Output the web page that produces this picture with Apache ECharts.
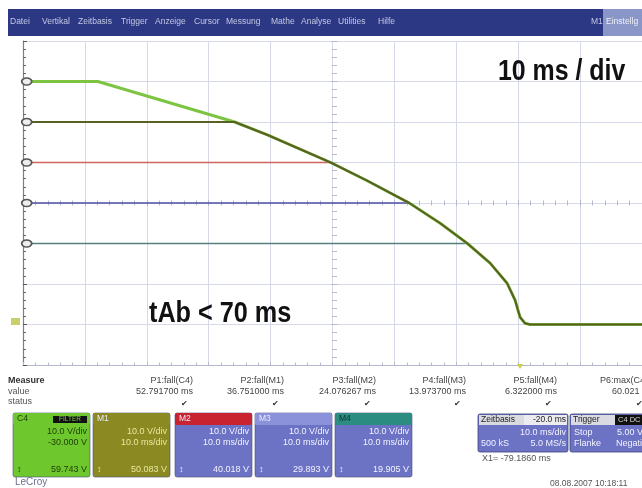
<!DOCTYPE html>
<html><head><meta charset="utf-8">
<script src="https://cdn.jsdelivr.net/npm/echarts@6/dist/echarts.min.js"></script>
<style>html,body{margin:0;padding:0;background:#fff}#c{width:642px;height:488px}</style>
</head><body><div id="c"></div>
<script>
// ---- data (time in ms, level in V) ----
const xMin = -80, xMax = 20, xStep = 10;
const yMin = -10, yMax = 70, yStep = 10;
const fallTime = [-45.8, -40.5, -30.3, -24.4, -17.6, -12.6, -8.2, -4.5, -1.8, -0.5, 0.3, 1.1, 1.9, 20];
const fallVolt = [50, 46.8, 40, 35.5, 30, 25, 20, 15.1, 10.2, 6, 1.8, 0.3, 0, 0];
const c4Time = [-80, -67.9];
const c4Volt = [60, 60];
const m1Time = [-80];
const m1Volt = [50];
const m2Time = [-80, -30.3];
const m2Volt = [40, 40];
const m3Time = [-80, -17.6];
const m3Volt = [30, 30];
const m4Time = [-80, -8.2];
const m4Volt = [20, 20];
const menuItems = ['Datei','Vertikal','Zeitbasis','Trigger','Anzeige','Cursor','Messung','Mathe','Analyse','Utilities','Hilfe'];
const measureNames = ['P1:fall(C4)','P2:fall(M1)','P3:fall(M2)','P4:fall(M3)','P5:fall(M4)','P6:max(C4)'];
const measureValues = ['52.791700 ms','36.751000 ms','24.076267 ms','13.973700 ms','6.322000 ms','60.021 V'];
const chanNames = ['C4','M1','M2','M3','M4'];
const chanLine1 = ['10.0 V/div','10.0 V/div','10.0 V/div','10.0 V/div','10.0 V/div'];
const chanLine2 = ['-30.000 V','10.0 ms/div','10.0 ms/div','10.0 ms/div','10.0 ms/div'];
const chanBottom = ['59.743 V','50.083 V','40.018 V','29.893 V','19.905 V'];

const zip = (a, b) => a.map((v, i) => [v, b[i]]);
const fall = zip(fallTime, fallVolt);

const chart = echarts.init(document.getElementById('c'), null, {renderer: 'canvas'});
const gridColor = '#d6d9e9';
const tickCol = '#b4b8cc';
const FF = '"Liberation Sans", Arial, sans-serif';

function T(x, y, text, o) {
  o = o || {};
  return {type: 'text', x: x, y: y, z: o.z || 20, scaleX: o.sx || 1,
    style: {text: text, fill: o.fill || '#444', fontSize: o.fs || 9, fontFamily: FF,
      fontWeight: o.fw || 'normal', textAlign: o.align || 'left', textVerticalAlign: 'middle'}};
}
function R(x, y, w, h, fill, o) {
  o = o || {};
  return {type: 'rect', z: o.z || 10, shape: {x: x, y: y, width: w, height: h, r: o.r || 0},
    style: {fill: fill, stroke: o.stroke || null, lineWidth: o.lw || 0}};
}

const g = [];
// menu bar
g.push(R(8, 9, 634, 27, '#2c3884'));
const menuX = [10, 42, 78, 121, 155, 194, 226, 271, 301, 338, 378];
menuItems.forEach((m, i) => g.push(T(menuX[i], 22, m, {fill: '#c3c8e4', fs: 8.5})));
g.push(T(591, 22, 'M1', {fill: '#c3c8e4', fs: 8.5}));
g.push(R(603, 9, 39, 27, '#8a96c8', {z: 11}));
g.push(T(606, 22, 'Einstellg', {fill: '#eef0fa', fs: 8.5}));

// annotations
g.push(T(498, 72, '10 ms / div', {fs: 30, fw: 'bold', fill: '#111', sx: 0.83, z: 30}));
g.push(T(149, 314, 'tAb < 70 ms', {fs: 29, fw: 'bold', fill: '#111', sx: 0.87, z: 30}));

// markers
g.push(R(11, 318, 9, 7, '#c9cf6a', {z: 12}));
g.push({type: 'polygon', z: 12, shape: {points: [[517, 364], [523, 364], [520, 369]]}, style: {fill: '#c8d040'}});

// measure table
g.push(T(8, 381, 'Measure', {fw: 'bold', fill: '#333'}));
g.push(T(8, 392, 'value', {fill: '#555'}));
g.push(T(8, 402, 'status', {fill: '#555'}));
const colRight = [193, 284, 376, 466, 557, 648];
measureNames.forEach((n, i) => {
  g.push(T(colRight[i], 381, n, {align: 'right', fill: '#444'}));
  g.push(T(colRight[i], 392, measureValues[i], {align: 'right', fill: '#444'}));
  g.push(T(colRight[i] - 5, 404, '\u2714', {align: 'right', fill: '#333', fs: 8}));
});

// channel boxes
const boxX = [13, 93, 175, 255, 335];
const boxBody = ['#6ec72c', '#8b8a22', '#6c72c4', '#6c72c4', '#6c72c4'];
const boxHead = ['#6ec72c', '#8b8a22', '#c8232f', '#8c92da', '#2b8c82'];
const boxTxt = ['#1d3d08', '#e9e6a0', '#f2f3ff', '#f2f3ff', '#f2f3ff'];
chanNames.forEach((n, i) => {
  const x = boxX[i], w = 77;
  g.push(R(x, 413, w, 64, boxBody[i], {r: 2, stroke: '#4a4f7a', lw: 0.6}));
  g.push(R(x, 413, w, 12, boxHead[i], {r: 2, z: 11}));
  g.push(T(x + 4, 419, n, {fill: i === 0 ? '#1d3d08' : (i === 4 ? '#10302c' : '#e8eaff'), fs: 8.5}));
  g.push(T(x + w - 3, 432, chanLine1[i], {align: 'right', fill: boxTxt[i]}));
  g.push(T(x + w - 3, 443, chanLine2[i], {align: 'right', fill: boxTxt[i]}));
  g.push(T(x + w - 3, 470, chanBottom[i], {align: 'right', fill: boxTxt[i]}));
  g.push(T(x + 4, 470, '\u2195', {fill: boxTxt[i], fs: 9}));
});
g.push(R(53, 416, 34, 7, '#111', {z: 12}));
g.push(T(70, 419.5, 'FILTER', {align: 'center', fill: '#7bd040', fs: 6.5}));

// Zeitbasis box
g.push(R(478, 414, 90, 38, '#6c72c4', {r: 2, stroke: '#3c4276', lw: 0.8}));
g.push(R(479, 415, 88, 10, '#d9dae2', {z: 11}));
g.push(R(524, 415, 43, 10, '#ececf0', {z: 11}));
g.push(T(481, 420, 'Zeitbasis', {fill: '#222', fs: 8.5}));
g.push(T(566, 420, '-20.0 ms', {align: 'right', fill: '#222', fs: 8.5}));
g.push(T(566, 433, '10.0 ms/div', {align: 'right', fill: '#f2f3ff'}));
g.push(T(481, 444, '500 kS', {fill: '#f2f3ff'}));
g.push(T(566, 444, '5.0 MS/s', {align: 'right', fill: '#f2f3ff'}));
// Trigger box
g.push(R(570, 414, 76, 38, '#6c72c4', {r: 2, stroke: '#3c4276', lw: 0.8}));
g.push(R(571, 415, 75, 10, '#d9dae2', {z: 11}));
g.push(R(615, 415, 30, 10, '#111', {z: 12}));
g.push(T(573, 420, 'Trigger', {fill: '#222', fs: 8.5}));
g.push(T(618, 420, 'C4 DC', {fill: '#ddd', fs: 7.5}));
g.push(T(574, 433, 'Stop', {fill: '#f2f3ff'}));
g.push(T(643, 433, '5.00 V', {align: 'right', fill: '#f2f3ff'}));
g.push(T(574, 444, 'Flanke', {fill: '#f2f3ff'}));
g.push(T(616, 444, 'Negativ', {fill: '#f2f3ff'}));
g.push(T(482, 459, 'X1= -79.1860 ms', {fill: '#555'}));
g.push(T(550, 484, '08.08.2007 10:18:11', {fill: '#555', fs: 8.5}));
g.push(T(15, 482, 'LeCroy', {fill: '#6a7090', fs: 10}));

function axisX(extra) {
  return Object.assign({type: 'value', min: xMin, max: xMax, interval: xStep, gridIndex: 0,
    axisLabel: {show: false}, splitLine: {show: false}, axisLine: {show: false, onZero: false},
    axisTick: {show: true, inside: true, length: 3, lineStyle: {color: tickCol}},
    minorTick: {show: true, splitNumber: 5, length: 2.5, lineStyle: {color: tickCol}}}, extra);
}
function axisY(extra) {
  return Object.assign({type: 'value', min: yMin, max: yMax, interval: yStep, gridIndex: 0,
    axisLabel: {show: false}, splitLine: {show: false}, axisLine: {show: false, onZero: false},
    axisTick: {show: true, inside: true, length: 3, lineStyle: {color: tickCol}},
    minorTick: {show: true, splitNumber: 5, length: 2.5, lineStyle: {color: tickCol}}}, extra);
}

const marker = (lvl) => ({symbol: 'circle', symbolSize: [10, 7], silent: true,
  label: {show: false}, itemStyle: {color: '#eeeeee', borderColor: '#555', borderWidth: 1.5},
  data: [{coord: [xMin + 0.6, lvl]}]});

const option = {
  animation: false,
  backgroundColor: '#ffffff',
  grid: {left: 23, top: 41, width: 623, height: 324},
  xAxis: [
    axisX({position: 'bottom', splitLine: {show: true, lineStyle: {color: gridColor, width: 1}},
      axisLine: {show: true, onZero: false, lineStyle: {color: '#b4b8cc'}}}),
    axisX({position: 'bottom', offset: -162}),
    axisX({position: 'bottom', offset: -162, axisTick: {show: true, inside: false, length: 3, lineStyle: {color: tickCol}},
      minorTick: {show: true, splitNumber: 5, length: 2.5, lineStyle: {color: tickCol}}})
  ],
  yAxis: [
    axisY({position: 'left', splitLine: {show: true, lineStyle: {color: gridColor, width: 1}},
      axisLine: {show: true, onZero: false, lineStyle: {color: '#7a7f95', width: 1.2}},
      axisTick: {show: true, inside: true, length: 4, lineStyle: {color: '#555'}},
      minorTick: {show: true, splitNumber: 5, length: 3, lineStyle: {color: '#666'}}}),
    axisY({position: 'left', offset: -311.5}),
    axisY({position: 'left', offset: -311.5, axisTick: {show: true, inside: false, length: 3, lineStyle: {color: tickCol}},
      minorTick: {show: true, splitNumber: 5, length: 2.5, lineStyle: {color: tickCol}}})
  ],
  graphic: g,
  series: [
    {name: 'M2', type: 'line', showSymbol: false, data: zip(m2Time, m2Volt),
      lineStyle: {color: '#d0665e', width: 1.3}, markPoint: marker(40)},
    {name: 'M3', type: 'line', showSymbol: false, data: zip(m3Time, m3Volt),
      lineStyle: {color: '#4e4ea6', width: 1.6}, markPoint: marker(30)},
    {name: 'M4', type: 'line', showSymbol: false, data: zip(m4Time, m4Volt),
      lineStyle: {color: '#557f7c', width: 1.3}, markPoint: marker(20)},
    {name: 'C4', type: 'line', showSymbol: false, data: zip(c4Time, c4Volt).concat(fall),
      lineStyle: {color: '#7ec443', width: 3}, markPoint: marker(60)},
    {name: 'M1', type: 'line', showSymbol: false, data: zip(m1Time, m1Volt).concat(fall),
      lineStyle: {color: '#5a5f22', width: 2}, markPoint: marker(50)}
  ]
};
chart.setOption(option);
</script></body></html>
